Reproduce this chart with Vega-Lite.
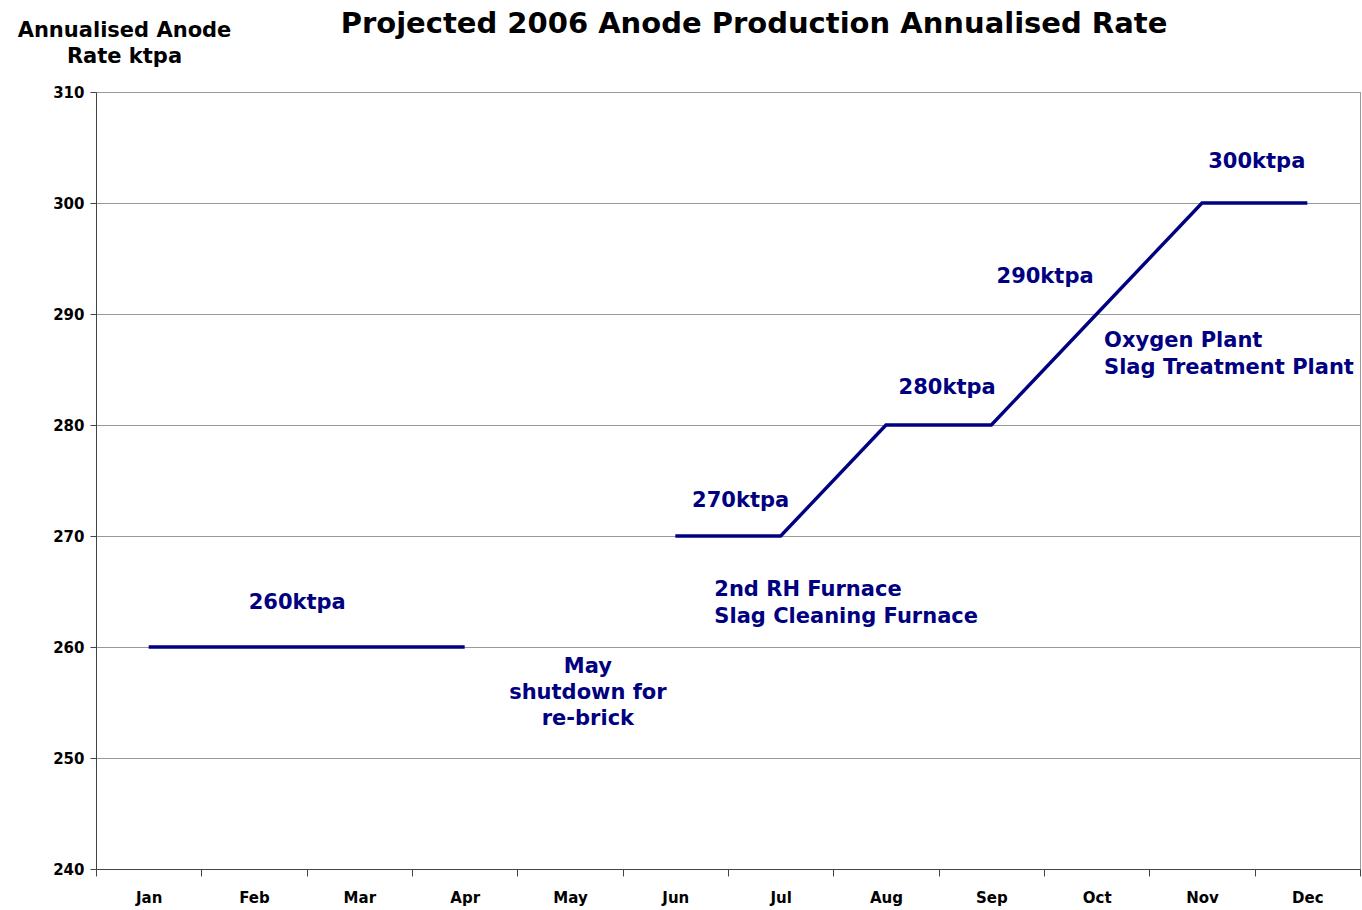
{
  "$schema": "https://vega.github.io/schema/vega-lite/v6.json",
  "width": 1264,
  "height": 777,
  "autosize": {"type": "none"},
  "padding": {"left": 96, "top": 92, "right": 2, "bottom": 41},
  "background": "white",
  "title": {
    "text": "Projected 2006 Anode Production Annualised Rate",
    "font": "DejaVu Sans",
    "fontSize": 29,
    "fontWeight": "bold",
    "color": "black",
    "anchor": "middle",
    "dx": 26,
    "offset": -20
  },
  "config": {
    "view": {"stroke": "#999999", "strokeWidth": 1},
    "axis": {
      "labelFont": "DejaVu Sans",
      "labelFontWeight": "bold",
      "labelFontSize": 15,
      "labelColor": "black",
      "titleFont": "DejaVu Sans",
      "titleColor": "black",
      "domainColor": "#444444",
      "tickColor": "#444444"
    }
  },
  "datasets": {
    "rate": [
      {"month": "Jan", "seg": "A", "ktpa": 260},
      {"month": "Feb", "seg": "A", "ktpa": 260},
      {"month": "Mar", "seg": "A", "ktpa": 260},
      {"month": "Apr", "seg": "A", "ktpa": 260},
      {"month": "Jun", "seg": "B", "ktpa": 270},
      {"month": "Jul", "seg": "B", "ktpa": 270},
      {"month": "Aug", "seg": "B", "ktpa": 280},
      {"month": "Sep", "seg": "B", "ktpa": 280},
      {"month": "Oct", "seg": "B", "ktpa": 290},
      {"month": "Nov", "seg": "B", "ktpa": 300},
      {"month": "Dec", "seg": "B", "ktpa": 300}
    ],
    "notes": [
      {"pos": 2.41, "val": 263.95, "label": "260ktpa", "align": "center"},
      {"pos": 5.17, "val": 258.23, "label": "May", "align": "center"},
      {"pos": 5.17, "val": 255.89, "label": "shutdown for", "align": "center"},
      {"pos": 5.17, "val": 253.54, "label": "re-brick", "align": "center"},
      {"pos": 6.62, "val": 273.15, "label": "270ktpa", "align": "center"},
      {"pos": 6.37, "val": 265.17, "label": "2nd RH Furnace", "align": "left"},
      {"pos": 6.37, "val": 262.73, "label": "Slag Cleaning Furnace", "align": "left"},
      {"pos": 8.58, "val": 283.35, "label": "280ktpa", "align": "center"},
      {"pos": 9.51, "val": 293.35, "label": "290ktpa", "align": "center"},
      {"pos": 10.07, "val": 287.6, "label": "Oxygen Plant", "align": "left"},
      {"pos": 10.07, "val": 285.17, "label": "Slag Treatment Plant", "align": "left"},
      {"pos": 11.52, "val": 303.65, "label": "300ktpa", "align": "center"}
    ]
  },
  "layer": [
    {
      "data": {"name": "rate"},
      "mark": {"type": "line", "color": "#000080", "strokeWidth": 3.4},
      "encoding": {
        "x": {
          "field": "month",
          "type": "nominal",
          "scale": {
            "domain": ["Jan", "Feb", "Mar", "Apr", "May", "Jun", "Jul", "Aug", "Sep", "Oct", "Nov", "Dec"],
            "paddingInner": 0,
            "paddingOuter": 0
          },
          "axis": {
            "title": null,
            "labelAngle": 0,
            "tickBand": "extent",
            "tickSize": 7,
            "labelPadding": 14,
            "grid": false
          }
        },
        "y": {
          "field": "ktpa",
          "type": "quantitative",
          "scale": {"domain": [240, 310], "nice": false, "zero": false},
          "axis": {
            "values": [240, 250, 260, 270, 280, 290, 300, 310],
            "tickSize": 6,
            "labelPadding": 6,
            "grid": true,
            "gridColor": "#999999",
            "gridWidth": 1,
            "title": ["Annualised Anode", "Rate ktpa"],
            "titleAngle": 0,
            "titleFontSize": 21,
            "titleFontWeight": "bold",
            "titleAlign": "center",
            "titleBaseline": "middle",
            "titleLineHeight": 26,
            "titleX": 28,
            "titleY": -62
          }
        },
        "detail": {"field": "seg"}
      }
    },
    {
      "data": {"name": "notes"},
      "transform": [{"filter": "datum.align === 'center'"}],
      "mark": {"type": "text", "font": "DejaVu Sans", "fontWeight": "bold", "fontSize": 21, "color": "#000080", "baseline": "middle", "align": "center"},
      "encoding": {
        "x": {"field": "pos", "type": "quantitative", "scale": {"domain": [0.5, 12.5], "nice": false, "zero": false}, "axis": null},
        "y": {"field": "val", "type": "quantitative"},
        "text": {"field": "label"}
      }
    },
    {
      "data": {"name": "notes"},
      "transform": [{"filter": "datum.align === 'left'"}],
      "mark": {"type": "text", "font": "DejaVu Sans", "fontWeight": "bold", "fontSize": 21, "color": "#000080", "baseline": "middle", "align": "left"},
      "encoding": {
        "x": {"field": "pos", "type": "quantitative", "scale": {"domain": [0.5, 12.5], "nice": false, "zero": false}, "axis": null},
        "y": {"field": "val", "type": "quantitative"},
        "text": {"field": "label"}
      }
    }
  ],
  "resolve": {"scale": {"x": "independent"}}
}
